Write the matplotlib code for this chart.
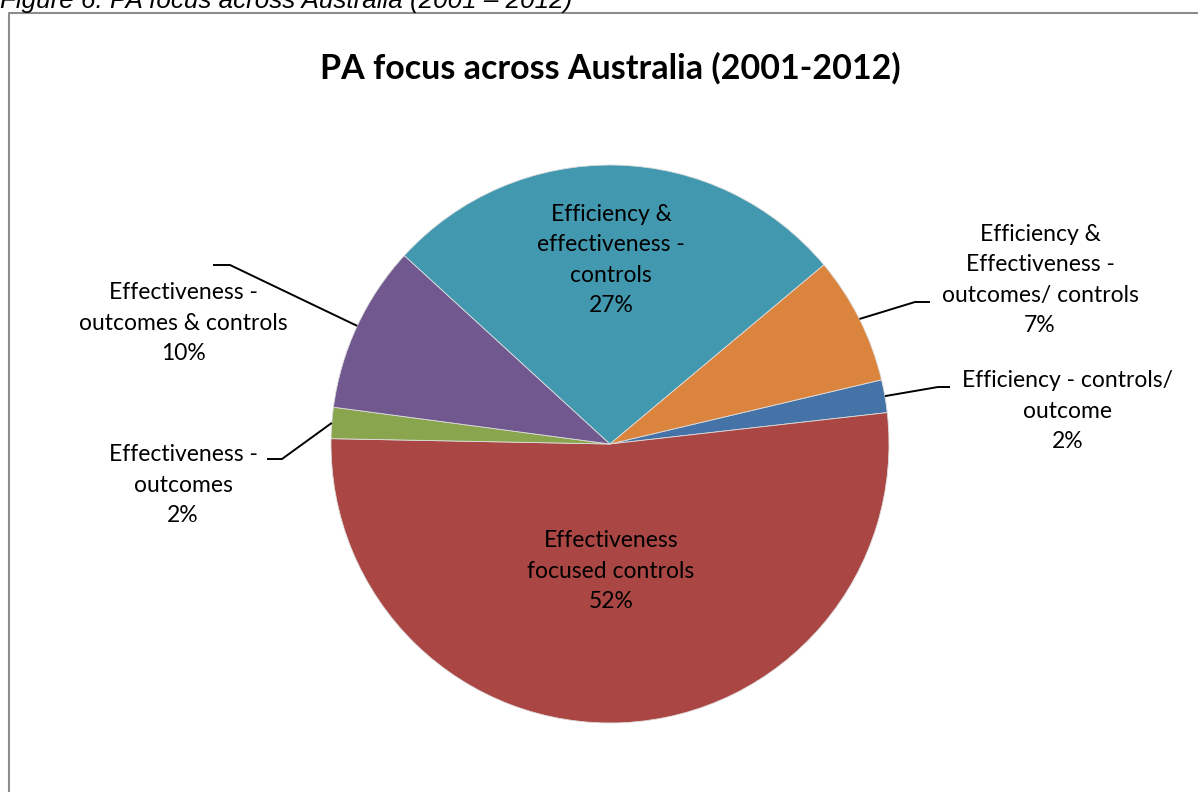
import matplotlib
matplotlib.use('Agg')
import matplotlib.pyplot as plt
import numpy as np

# ---- data ----
categories = [
    "Efficiency - controls/\noutcome",
    "Effectiveness\nfocused controls",
    "Effectiveness -\noutcomes",
    "Effectiveness -\noutcomes & controls",
    "Efficiency &\neffectiveness -\ncontrols",
    "Efficiency &\nEffectiveness -\noutcomes/ controls",
]
values = [1.9, 52.1, 1.8, 9.7, 27.1, 7.4]
colors = ["#4572A7", "#AA4643", "#89A54E", "#71588F", "#4198AF", "#DB843D"]
title = "PA focus across Australia (2001-2012)"
caption = "Figure 6: PA focus across Australia (2001 \u2013 2012)"

W, H = 1198, 792
fig = plt.figure(figsize=(W / 100, H / 100), dpi=100)
ax = fig.add_axes([0, 0, 1, 1])


def Y(y):
    return H - y


cx, cy, r = 610, Y(444), 279
wedges, _ = ax.pie(values, colors=colors, startangle=13.3, counterclock=False,
                   center=(cx, cy), radius=r,
                   wedgeprops=dict(edgecolor='#dddddd', linewidth=0.6))
ax.set_xlim(0, W)
ax.set_ylim(0, H)
ax.set_aspect('equal')
ax.axis('off')

font = 'Lato'
fs = 16.5

# label placement (pixel centres of text blocks), elbow & end of leader lines
label_pos = [(1068, 411), (611, 571), (183, 485), (183, 323), (611, 260), (1040, 280)]
leaders = [((938, 387), (950, 387)), None, ((282, 459), (267, 459)),
           ((230, 265), (213, 265)), None, ((915, 302), (930, 302))]

for w, cat, v, (lx, ly), ld in zip(wedges, categories, values, label_pos, leaders):
    txt = f"{cat}\n{v:.0f}%"
    ax.text(lx, Y(ly), txt, ha='center', va='center', multialignment='center',
            fontsize=fs, family=font, color='black', linespacing=1.56)
    if ld is not None:
        th = np.deg2rad((w.theta1 + w.theta2) / 2)
        sx, sy = cx + r * np.cos(th), cy + r * np.sin(th)
        (ex, ey), (fx, fy) = ld
        ax.plot([sx, ex, fx], [sy, Y(ey), Y(fy)], color='black', lw=1.4,
                solid_capstyle='butt', solid_joinstyle='miter')

ax.text(610, Y(68), title, ha='center', va='center', fontsize=24.5,
        family=font, weight='bold', color='black')

# border (clipped by the image on the right and bottom)
ax.plot([8.5, 8.5, W + 20], [-20, Y(12.5), Y(12.5)], color='#8c8c8c', lw=1.5)

# caption above the chart, partially cut off
ax.text(0, Y(8), caption, ha='left', va='baseline', fontsize=18.7,
        family='Liberation Sans', style='italic', color='black')

fig.savefig('out.png', dpi=100)
